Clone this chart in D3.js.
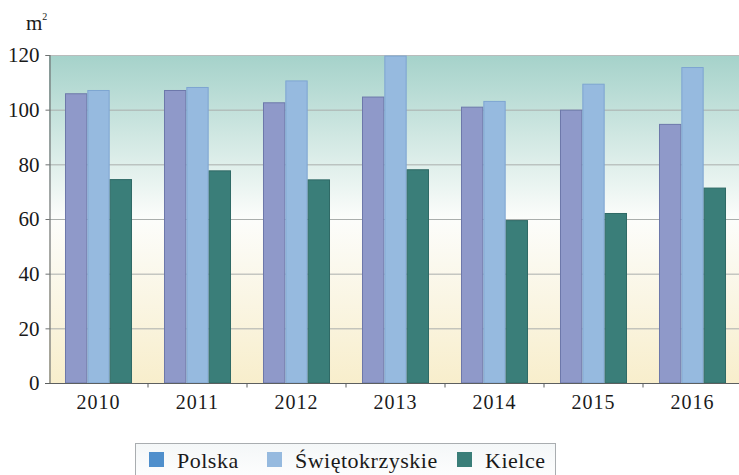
<!DOCTYPE html>
<html>
<head>
<meta charset="utf-8">
<script src="https://cdn.jsdelivr.net/npm/d3@7"></script>
<style>
  html, body { margin: 0; padding: 0; background: #ffffff; }
  svg { display: block; }
</style>
</head>
<body>
<svg id="chart" width="739" height="475"></svg>
<script>
// Average floor area of a dwelling (m²), 2010–2016
const years = ["2010", "2011", "2012", "2013", "2014", "2015", "2016"];
const seriesNames = ["Polska", "Świętokrzyskie", "Kielce"];
const polska = [106.0, 107.2, 102.7, 104.8, 101.1, 100.0, 94.8];
const swietokrzyskie = [107.2, 108.3, 110.7, 119.8, 103.2, 109.5, 115.6];
const kielce = [74.6, 77.8, 74.5, 78.2, 59.6, 62.2, 71.5];
const yTicks = [0, 20, 40, 60, 80, 100, 120];

const seriesValues = [polska, swietokrzyskie, kielce];
const barFill = ["#8f99c9", "#96badf", "#3a7e79"];
const barStroke = ["#6d78aa", "#7ea5d1", "#2f6a66"];
const legendFill = ["#4f8fcc", "#96badf", "#3a7e79"];
const serif = '"Liberation Serif", "Times New Roman", serif';

const svg = d3.select("#chart");
const margin = { left: 49, top: 55, right: 742, bottom: 383 };

const x0 = d3.scaleBand().domain(years).range([margin.left, margin.right]).padding(0);
const x1 = d3.scaleBand().domain(seriesNames).range([0, x0.bandwidth()])
  .paddingInner(0).paddingOuter(0.716);
const y = d3.scaleLinear().domain([0, 120]).range([margin.bottom, margin.top]);

// Plot background: teal at the top, white in the middle, cream at the base
const defs = svg.append("defs");
const bg = defs.append("linearGradient").attr("id", "plotBg")
  .attr("x1", 0).attr("y1", 0).attr("x2", 0).attr("y2", 1);
bg.append("stop").attr("offset", "0%").attr("stop-color", "#a5d2ca");
bg.append("stop").attr("offset", "50%").attr("stop-color", "#fcfdfb");
bg.append("stop").attr("offset", "100%").attr("stop-color", "#f8eecc");

const lg = defs.append("linearGradient").attr("id", "legendBg")
  .attr("x1", 0).attr("y1", 0).attr("x2", 0).attr("y2", 1);
lg.append("stop").attr("offset", "0%").attr("stop-color", "#f4f7f8");
lg.append("stop").attr("offset", "100%").attr("stop-color", "#ffffff");

svg.append("rect")
  .attr("x", margin.left).attr("y", y(120))
  .attr("width", margin.right - margin.left)
  .attr("height", y(0) - y(120))
  .attr("fill", "url(#plotBg)");

// Horizontal gridlines
svg.append("g")
  .selectAll("line")
  .data(yTicks.filter(d => d > 0))
  .join("line")
  .attr("x1", margin.left).attr("x2", margin.right)
  .attr("y1", d => y(d) + 0.5).attr("y2", d => y(d) + 0.5)
  .attr("stroke", d => d === 120 ? "#b9bcbc" : "#a9aeac")
  .attr("stroke-width", 1);

// Bars
const groups = svg.append("g")
  .selectAll("g")
  .data(years)
  .join("g")
  .attr("transform", d => `translate(${x0(d)},0)`);

groups.selectAll("rect")
  .data((yr, i) => seriesNames.map((s, k) => ({ s, k, v: seriesValues[k][i] })))
  .join("rect")
  .attr("x", d => x1(d.s) + 0.5)
  .attr("y", d => y(d.v) + 0.5)
  .attr("width", x1.bandwidth() - 1)
  .attr("height", d => y(0) - y(d.v) - 0.5)
  .attr("fill", d => barFill[d.k])
  .attr("stroke", d => barStroke[d.k])
  .attr("stroke-width", 1);

// Y axis
const yAxis = svg.append("g")
  .attr("transform", `translate(${margin.left + 0.5},0)`)
  .call(d3.axisLeft(y).tickValues(yTicks).tickSize(4).tickPadding(6).tickFormat(d3.format("d")));
yAxis.select(".domain").attr("stroke", "#6f7272").attr("stroke-width", 1.2);
yAxis.selectAll(".tick line").attr("stroke", "#6f7272");
yAxis.selectAll(".tick text")
  .attr("fill", "#1a1a1a")
  .style("font-family", serif)
  .style("font-size", "21px");

// X axis: ticks sit between year groups
const xAxis = svg.append("g")
  .attr("transform", `translate(0,${margin.bottom + 0.5})`);
xAxis.append("line")
  .attr("x1", margin.left - 4).attr("x2", margin.right)
  .attr("stroke", "#5c5f5f").attr("stroke-width", 1.2);
xAxis.selectAll("line.tk")
  .data(years.slice(1))
  .join("line")
  .attr("class", "tk")
  .attr("x1", d => x0(d)).attr("x2", d => x0(d))
  .attr("y1", 0).attr("y2", 4)
  .attr("stroke", "#5c5f5f");
xAxis.selectAll("text")
  .data(years)
  .join("text")
  .attr("x", d => x0(d) + x0.bandwidth() / 2)
  .attr("y", 25)
  .attr("text-anchor", "middle")
  .attr("letter-spacing", 1)
  .attr("fill", "#1a1a1a")
  .style("font-family", serif)
  .style("font-size", "20px")
  .text(d => d);

// Unit label
const unit = svg.append("text")
  .attr("x", 26).attr("y", 30)
  .attr("fill", "#1a1a1a")
  .style("font-family", serif)
  .style("font-size", "21px");
unit.append("tspan").text("m");
unit.append("tspan").attr("dy", -10).style("font-size", "10px").text("2");

// Legend
const legend = svg.append("g");
legend.append("rect")
  .attr("x", 135.5).attr("y", 443.5)
  .attr("width", 420).attr("height", 40)
  .attr("fill", "url(#legendBg)")
  .attr("stroke", "#a9adb0").attr("stroke-width", 1);

const legendX = [149, 267, 457];
const items = legend.selectAll("g.item")
  .data(seriesNames)
  .join("g")
  .attr("class", "item")
  .attr("transform", (d, i) => `translate(${legendX[i]},0)`);
items.append("rect")
  .attr("x", 0).attr("y", 452)
  .attr("width", 15).attr("height", 15)
  .attr("fill", (d, i) => legendFill[i]);
items.append("text")
  .attr("x", 28).attr("y", 468)
  .attr("fill", "#1a1a1a")
  .attr("letter-spacing", 0.5)
  .style("font-family", serif)
  .style("font-size", "22px")
  .text(d => d);
</script>
</body>
</html>
